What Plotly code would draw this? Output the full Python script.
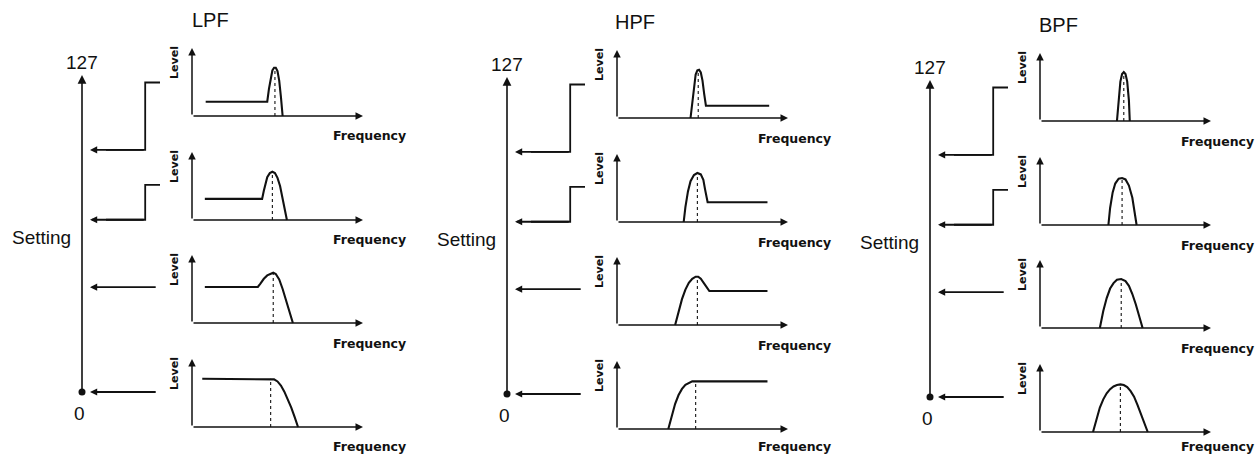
import plotly.graph_objects as go

W, H = 1260, 457

# ---- data -------------------------------------------------------------
filters = ["LPF", "HPF", "BPF"]

# setting value pointed at by each response panel (0..127 scale)
setting_marks = [97, 69, 42, 0]
# upper end of the bracket drawn for the two highest settings
step_tops = [124, 83]

# response curves: normalised frequency / level, one list per panel (top to bottom)
lpf_freq = [
    [0.08, 0.44, 0.45, 0.46, 0.47, 0.48, 0.49, 0.50, 0.51, 0.52, 0.53],
    [0.075, 0.41, 0.42, 0.43, 0.44, 0.455, 0.47, 0.485, 0.50, 0.515, 0.53, 0.545, 0.555],
    [0.075, 0.385, 0.40, 0.42, 0.44, 0.46, 0.475, 0.49, 0.51, 0.53, 0.55, 0.57, 0.59],
    [0.06, 0.46, 0.48, 0.50, 0.52, 0.54, 0.56, 0.58, 0.60, 0.62],
]
lpf_level = [
    [0.21, 0.21, 0.40, 0.57, 0.67, 0.71, 0.71, 0.66, 0.52, 0.28, 0.0],
    [0.31, 0.31, 0.43, 0.55, 0.63, 0.69, 0.71, 0.69, 0.62, 0.50, 0.33, 0.15, 0.0],
    [0.53, 0.53, 0.58, 0.65, 0.70, 0.73, 0.74, 0.72, 0.64, 0.50, 0.33, 0.16, 0.0],
    [0.71, 0.71, 0.70, 0.67, 0.61, 0.52, 0.41, 0.29, 0.15, 0.0],
]
lpf_cutoff = [0.485, 0.47, 0.475, 0.46]
lpf_cutoff_level = [0.71, 0.71, 0.74, 0.71]

hpf_freq = [
    [0.43, 0.44, 0.45, 0.46, 0.47, 0.48, 0.49, 0.50, 0.51, 0.52, 0.89],
    [0.39, 0.40, 0.415, 0.43, 0.45, 0.47, 0.49, 0.505, 0.515, 0.525, 0.53, 0.88],
    [0.34, 0.36, 0.38, 0.40, 0.42, 0.44, 0.46, 0.475, 0.49, 0.51, 0.53, 0.54, 0.88],
    [0.30, 0.32, 0.34, 0.36, 0.38, 0.40, 0.42, 0.44, 0.46, 0.88],
]
hpf_level = [
    [0.0, 0.25, 0.48, 0.64, 0.70, 0.71, 0.67, 0.55, 0.35, 0.18, 0.18],
    [0.0, 0.22, 0.45, 0.60, 0.69, 0.72, 0.70, 0.62, 0.48, 0.34, 0.29, 0.29],
    [0.0, 0.20, 0.38, 0.52, 0.62, 0.68, 0.71, 0.71, 0.68, 0.61, 0.53, 0.50, 0.50],
    [0.0, 0.20, 0.37, 0.50, 0.59, 0.65, 0.68, 0.70, 0.70, 0.70],
]
hpf_cutoff = [0.475, 0.47, 0.47, 0.46]
hpf_cutoff_level = [0.70, 0.72, 0.71, 0.70]

bpf_freq = [
    [0.45, 0.46, 0.47, 0.48, 0.49, 0.50, 0.51, 0.52, 0.525],
    [0.40, 0.41, 0.425, 0.44, 0.46, 0.48, 0.50, 0.52, 0.54, 0.555, 0.565],
    [0.35, 0.37, 0.39, 0.41, 0.43, 0.45, 0.475, 0.50, 0.52, 0.54, 0.56, 0.58, 0.60],
    [0.31, 0.33, 0.35, 0.37, 0.39, 0.41, 0.43, 0.45, 0.47, 0.49, 0.51, 0.53, 0.55,
     0.57, 0.59, 0.61, 0.63],
]
bpf_level = [
    [0.0, 0.35, 0.58, 0.69, 0.72, 0.69, 0.58, 0.30, 0.0],
    [0.0, 0.25, 0.48, 0.61, 0.68, 0.69, 0.67, 0.58, 0.40, 0.18, 0.0],
    [0.0, 0.25, 0.44, 0.58, 0.66, 0.71, 0.72, 0.69, 0.62, 0.50, 0.35, 0.17, 0.0],
    [0.0, 0.20, 0.36, 0.48, 0.57, 0.63, 0.67, 0.69, 0.70, 0.69, 0.66, 0.60, 0.52,
     0.40, 0.27, 0.13, 0.0],
]
bpf_centre = [0.49, 0.48, 0.475, 0.47]
bpf_centre_level = [0.72, 0.69, 0.72, 0.70]

curves = {
    "LPF": (lpf_freq, lpf_level, lpf_cutoff, lpf_cutoff_level),
    "HPF": (hpf_freq, hpf_level, hpf_cutoff, hpf_cutoff_level),
    "BPF": (bpf_freq, bpf_level, bpf_centre, bpf_centre_level),
}

# ---- geometry (pixels) ------------------------------------------------
group_dx = [0, 425, 848]
group_dy = [0, 2, 5]

panel_ox, panel_len, panel_h = 192, 171, 68
panel_base = [116, 220, 323, 427]
px_rng = (-0.05, 1.05)
py_rng = (-0.08, 1.05)

set_ox, set_unit = 82, 80
set_zero, set_top = 392, 75
sx_rng = (-0.3, 1.1)
sy_rng = (-15, 140)

INK = "#111111"
FONT = "Liberation Sans, Arial, sans-serif"
LABEL_FONT = "DejaVu Sans, Verdana, sans-serif"

layout = dict(
    width=W, height=H, margin=dict(l=0, r=0, t=0, b=0),
    paper_bgcolor="white", plot_bgcolor="white", showlegend=False,
)
traces = []
annotations = []
k = 0


def new_axes(x0, x1, ytop, ybot, xr, yr):
    global k
    k += 1
    sfx = "" if k == 1 else str(k)
    layout["xaxis" + sfx] = dict(domain=[x0 / W, x1 / W], range=list(xr),
                                 visible=False, fixedrange=True, anchor="y" + sfx)
    layout["yaxis" + sfx] = dict(domain=[1 - ybot / H, 1 - ytop / H], range=list(yr),
                                 visible=False, fixedrange=True, anchor="x" + sfx)
    return "x" + sfx, "y" + sfx


def arrow(xr, yr, tail, head, width=1.5, size=1.0):
    annotations.append(dict(
        xref=xr, yref=yr, axref=xr, ayref=yr,
        x=head[0], y=head[1], ax=tail[0], ay=tail[1],
        text="", showarrow=True, arrowhead=2, arrowsize=size,
        arrowwidth=width, arrowcolor=INK, standoff=0, startstandoff=0,
    ))


def paper_text(text, px, py, size, font=FONT, angle=0, xanchor="center", bold=False):
    annotations.append(dict(
        xref="paper", yref="paper", x=px / W, y=1 - py / H,
        text=f"<b>{text}</b>" if bold else text, showarrow=False,
        xanchor=xanchor, yanchor="middle", textangle=angle,
        font=dict(family=font, size=size, color=INK),
    ))


for g, name in enumerate(filters):
    dx, dy = group_dx[g], group_dy[g]

    # title and scale caption
    paper_text(name, 210 + dx, 20 + dy, 20)
    paper_text("Setting", 41 + dx, 237 + dy, 19)

    # setting scale
    unit_y = (set_zero - set_top) / 127.0
    xr, yr = new_axes(set_ox + dx + sx_rng[0] * set_unit, set_ox + dx + sx_rng[1] * set_unit,
                      set_zero + dy - sy_rng[1] * unit_y, set_zero + dy - sy_rng[0] * unit_y,
                      sx_rng, sy_rng)
    arrow(xr, yr, (0, 0), (0, 127), width=1.6, size=1.1)
    traces.append(go.Scatter(x=[0], y=[0], xaxis=xr, yaxis=yr, mode="markers",
                             marker=dict(size=7, color=INK), hoverinfo="skip"))
    annotations.append(dict(xref=xr, yref=yr, x=0, y=132, text="127", showarrow=False,
                            xanchor="center", yanchor="middle",
                            font=dict(family=FONT, size=19, color=INK)))
    annotations.append(dict(xref=xr, yref=yr, x=-0.03, y=-8.5, text="0", showarrow=False,
                            xanchor="center", yanchor="middle",
                            font=dict(family=FONT, size=19, color=INK)))
    for i, mark in enumerate(setting_marks):
        if i < len(step_tops):
            traces.append(go.Scatter(
                x=[0.975, 0.79, 0.79, 0.3], y=[step_tops[i], step_tops[i], mark, mark],
                xaxis=xr, yaxis=yr, mode="lines", line=dict(color=INK, width=1.8),
                hoverinfo="skip"))
            arrow(xr, yr, (0.79, mark), (0.1, mark), width=1.8, size=0.8)
        else:
            arrow(xr, yr, (0.94, mark), (0.1, mark), width=1.8, size=0.8)

    # response panels
    freq, level, centre, centre_level = curves[name]
    ox = panel_ox + dx
    for p in range(4):
        base = panel_base[p] + dy
        xr, yr = new_axes(ox + px_rng[0] * panel_len, ox + px_rng[1] * panel_len,
                          base - py_rng[1] * panel_h, base - py_rng[0] * panel_h,
                          px_rng, py_rng)
        arrow(xr, yr, (0, 0), (1, 0), width=1.5, size=1.0)
        arrow(xr, yr, (0, 0), (0, 1), width=1.5, size=1.0)
        traces.append(go.Scatter(
            x=[centre[p], centre[p]], y=[0, centre_level[p]], xaxis=xr, yaxis=yr,
            mode="lines", line=dict(color=INK, width=1.1, dash="dot"), hoverinfo="skip"))
        traces.append(go.Scatter(
            x=freq[p], y=level[p], xaxis=xr, yaxis=yr, mode="lines",
            line=dict(color=INK, width=2.1), hoverinfo="skip"))
        paper_text("Level", ox - 17, base - 0.78 * panel_h, 11, font=LABEL_FONT,
                   angle=-90, bold=True)
        paper_text("Frequency", ox + 1.265 * panel_len, min(base + 20, 446), 12.5,
                   font=LABEL_FONT, xanchor="right", bold=True)

layout["annotations"] = annotations
fig = go.Figure(data=traces, layout=layout)
fig.write_html("out.html", config={"displayModeBar": False})
